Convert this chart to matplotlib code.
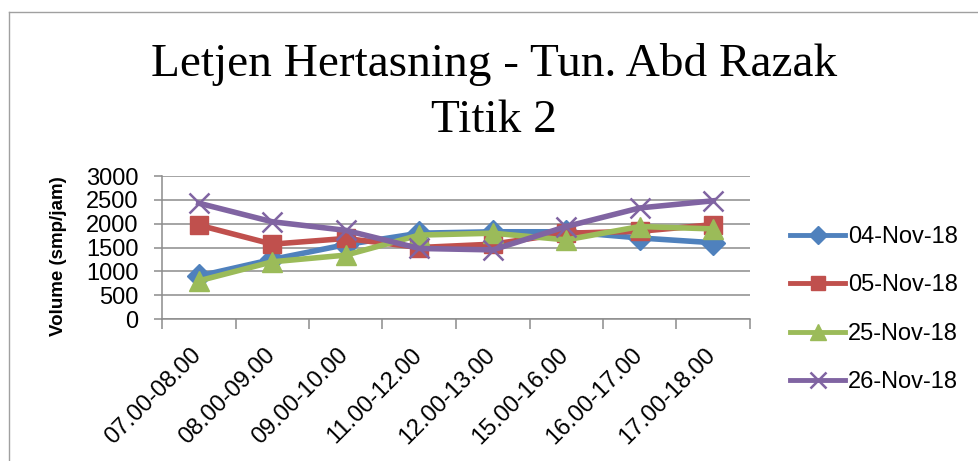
import numpy as np
import matplotlib
matplotlib.use("Agg")
import matplotlib.pyplot as plt
from matplotlib.lines import Line2D
from matplotlib.transforms import ScaledTranslation

periods = ["07.00-08.00", "08.00-09.00", "09.00-10.00", "11.00-12.00",
           "12.00-13.00", "15.00-16.00", "16.00-17.00", "17.00-18.00"]
dates = ["04-Nov-18", "05-Nov-18", "25-Nov-18", "26-Nov-18"]
nov04 = [900, 1250, 1560, 1800, 1830, 1830, 1700, 1600]
nov05 = [1970, 1570, 1690, 1500, 1570, 1800, 1840, 1980]
nov25 = [800, 1200, 1340, 1760, 1800, 1660, 1940, 1890]
nov26 = [2430, 2040, 1860, 1480, 1450, 1940, 2330, 2480]

colors = ["#4F81BD", "#C0504D", "#9BBB59", "#8064A2"]
markers = ["D", "s", "^", "x"]
msizes = [12, 13, 14, 15]

plt.rcParams["font.family"] = "Liberation Sans"

fig = plt.figure(figsize=(9.79, 4.61), dpi=100)
ax = fig.add_axes([162/979, 1-319/461, (750-162)/979, (319-176)/461])

x = np.arange(len(periods)) + 0.5
for vals, lab, c, m, ms in zip([nov04, nov05, nov25, nov26], dates, colors, markers, msizes):
    ax.plot(x, vals, color=c, lw=4, marker=m, markersize=ms,
            markeredgewidth=1.8 if m == "x" else 1, markerfacecolor=c,
            markeredgecolor=c, label=lab, clip_on=False)

grey = "#8c8c8c"
ax.set_xlim(0, len(periods))
ax.set_ylim(0, 3000)
ax.set_yticks(np.arange(0, 3001, 500))
ax.yaxis.grid(True, color=grey, lw=1.1)
ax.set_axisbelow(True)
for s in ["top", "right"]:
    ax.spines[s].set_visible(False)
for s in ["left", "bottom"]:
    ax.spines[s].set_color(grey)
    ax.spines[s].set_linewidth(1.1)

ax.set_xticks(np.arange(len(periods) + 1))
ax.set_xticklabels([])
ax.set_xticks(x, minor=True)
ax.set_xticklabels(periods, minor=True, rotation=45, ha="right", fontsize=17)
ax.tick_params(axis="x", which="major", length=7, color=grey, width=1.1)
ax.tick_params(axis="x", which="minor", length=0, pad=18)
ax.tick_params(axis="y", length=6, color=grey, width=1.1, pad=11, labelsize=17)
off = ScaledTranslation(7/100, 0, fig.dpi_scale_trans)
for t in ax.get_xticklabels(minor=True):
    t.set_transform(t.get_transform() + off)

fig.text(58.5/979, 1-256/461, "Volume (smp/jam)", rotation=90, ha="center",
         va="center", fontsize=13.5, fontweight="bold")

fig.text(494/979, 1-76/461, "Letjen Hertasning - Tun. Abd Razak", ha="center",
         va="baseline", fontsize=34, family="Liberation Serif")
fig.text(494/979, 1-131.7/461, "Titik 2", ha="center",
         va="baseline", fontsize=34, family="Liberation Serif")

leg = ax.legend(loc="upper left", bbox_to_anchor=(790/979, 1-226/461),
                bbox_transform=fig.transFigure, frameon=False, fontsize=17,
                handlelength=2.33, handletextpad=0.13, labelspacing=1.12,
                borderpad=0, borderaxespad=0, markerscale=0.8)
for h in leg.legend_handles:
    h.set_linewidth(3.5)

fig.add_artist(Line2D([9/979, 9/979], [0, 1-12/461], color="#a0a0a0", lw=1,
                      transform=fig.transFigure))
fig.add_artist(Line2D([9/979, 1], [1-12/461, 1-12/461], color="#a0a0a0", lw=1,
                      transform=fig.transFigure))

fig.savefig("out.png", dpi=100)
